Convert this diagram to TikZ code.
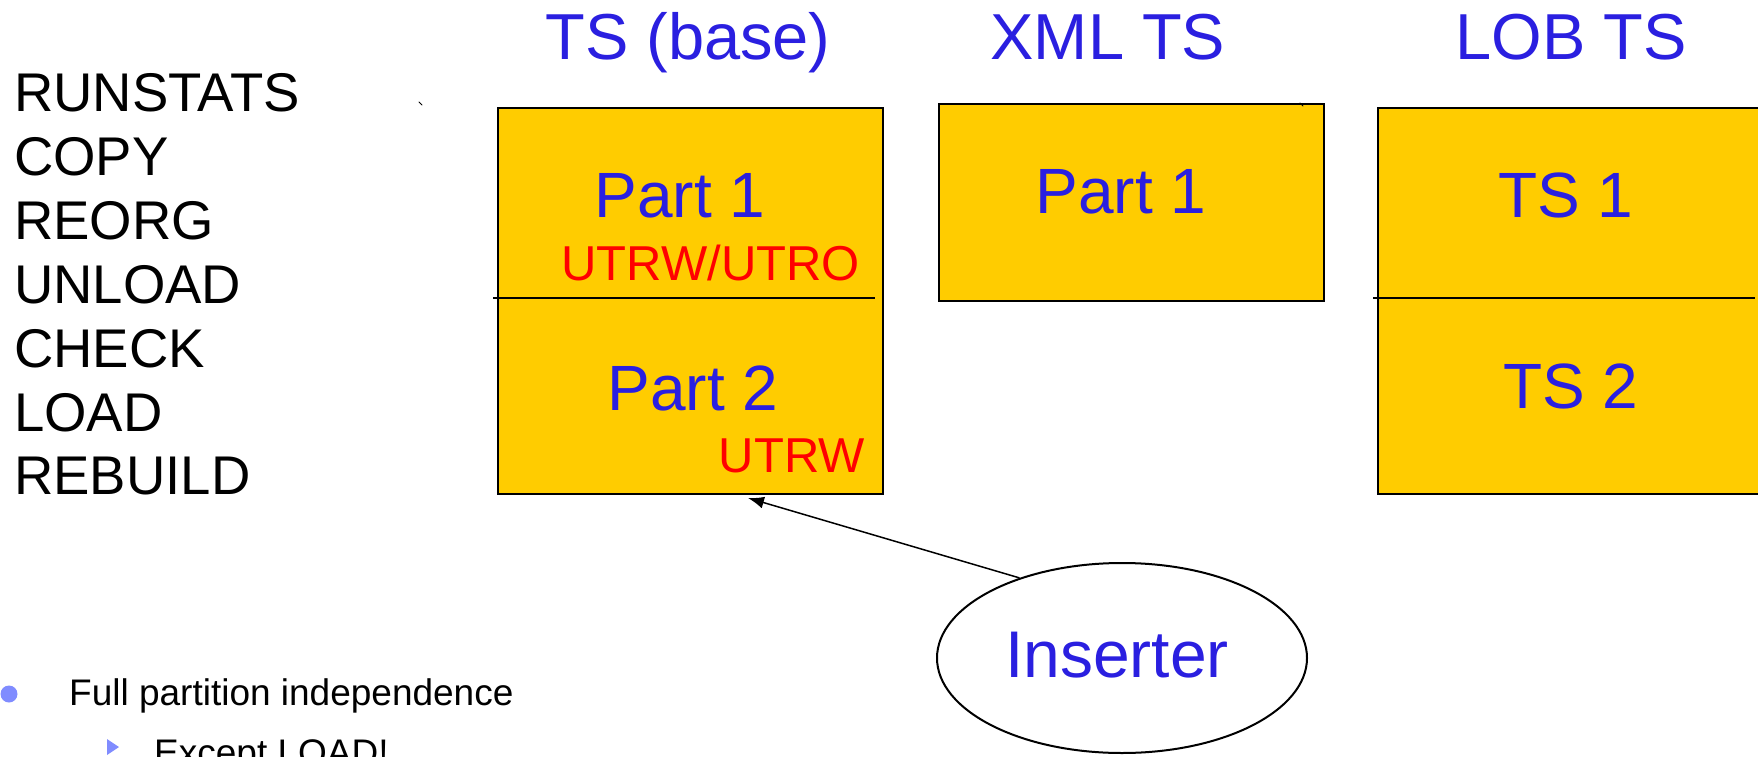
\documentclass[tikz,border=0pt]{standalone}
\usepackage{fontspec}
\setmainfont{Liberation Sans}
\usetikzlibrary{shapes.geometric,arrows.meta}
\definecolor{tsblue}{RGB}{42,31,224}
\definecolor{tsyellow}{RGB}{255,204,0}
\definecolor{bulletblue}{RGB}{128,140,255}

\begin{document}
\begin{tikzpicture}[x = 1pt, y = -1pt]
\tikzstyle{Utility}=[anchor = base west, inner sep = 0pt,
                     font = \fontsize{54.5}{60}\selectfont]
\tikzstyle{Head}=[anchor = base, inner sep = 0pt, text = tsblue,
                  font = \fontsize{65}{70}\selectfont]
\tikzstyle{Space}=[draw, line width = 2pt, fill = tsyellow,
                   anchor = north west, inner sep = 0pt,
                   minimum width = 385pt]
\tikzstyle{Part}=[anchor = base, inner sep = 0pt, text = tsblue,
                  font = \fontsize{64}{70}\selectfont]
\tikzstyle{Claim}=[anchor = base east, inner sep = 0pt, text = red,
                   font = \fontsize{49}{55}\selectfont]
\tikzstyle{Point}=[anchor = base west, inner sep = 0pt,
                   font = \fontsize{37}{44}\selectfont]
\useasboundingbox (0, 0) rectangle (1758, 757);
\node[Utility] (u0) at (14, 112) {RUNSTATS};
\node[Utility] (u1) at (14, 175.8) {COPY};
\node[Utility] (u2) at (14, 239.6) {REORG};
\node[Utility] (u3) at (14, 303.4) {UNLOAD};
\node[Utility] (u4) at (14, 367.2) {CHECK};
\node[Utility] (u5) at (14, 431) {LOAD};
\node[Utility] (u6) at (14, 494.8) {REBUILD};
\node[Head] (h0) at (688, 60) {TS (base)};
\node[Head] (h1) at (1108, 60) {XML TS};
\node[Head] (h2) at (1571, 60) {LOB TS};
\node[Space, minimum height = 386pt] (base) at (497, 107) {};
\node[Space, minimum height = 197pt] (xml) at (938, 103) {};
\node[Space, minimum height = 386pt] (lob) at (1377, 107) {};
\draw[line width = 1.5pt] (493, 298) -- (875, 298);
\draw[line width = 1.5pt] (1373, 298) -- (1755, 298);
\draw[line width = 1pt, line cap = round] (419, 102) -- (422, 105);
\draw[line width = 1pt, line cap = round] (1300, 103) -- (1303, 106);
\node[Part] (p0) at (680, 217) {Part 1};
\node[Claim] (c0) at (860, 280) {UTRW/UTRO};
\node[Part] (p1) at (693, 410) {Part 2};
\node[Claim] (c1) at (865, 472) {UTRW};
\node[Part] (p2) at (1121, 213) {Part 1};
\node[Part] (p3) at (1566, 217) {TS 1};
\node[Part] (p4) at (1571, 408) {TS 2};
\node[ellipse, draw, line width = 2pt, inner sep = 0pt,
      minimum width = 370pt, minimum height = 190pt] (ins) at (1122, 658) {};
\node[Part, font = \fontsize{66}{70}\selectfont] (insname) at (1117, 677) {Inserter};
\coordinate (tip) at (748, 498);
\draw[line width = 1.5pt, -{Latex[length = 16pt, width = 12pt]}] (ins.142.8) -- (tip);
\fill[bulletblue] (9, 694) circle (8.5);
\node[Point] (b0) at (69, 705) {Full partition independence};
\fill[bulletblue] (107, 739) -- (119, 747) -- (107, 755) -- cycle;
\node[Point] (b1) at (154, 765) {Except LOAD!};
\end{tikzpicture}
\end{document}
